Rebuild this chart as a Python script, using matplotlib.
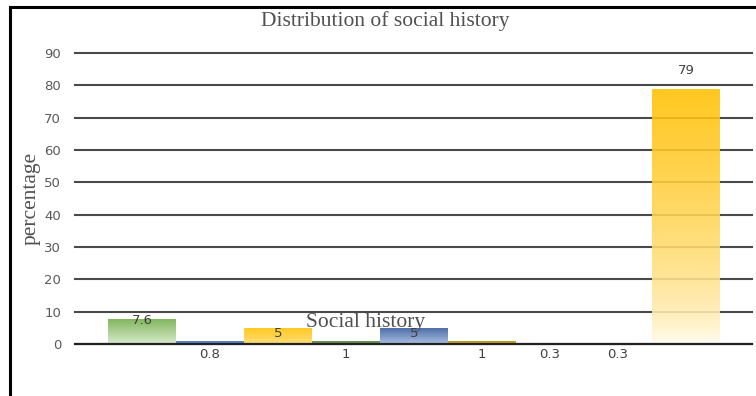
import numpy as np
import matplotlib.pyplot as plt
from matplotlib.colors import to_rgb
from matplotlib.lines import Line2D

# Social history categories and their shares (percent)
categories = ["A", "B", "C", "D", "E", "F", "G", "H", "I"]
values = [7.6, 0.8, 5, 1, 5, 1, 0.3, 0.3, 79]
value_labels = ["7.6", "0.8", "5", "1", "5", "1", "0.3", "0.3", "79"]
y_ticks = [0, 10, 20, 30, 40, 50, 60, 70, 80, 90]

# (top colour, bottom colour, fade exponent) per bar
top_colors = ["#70AD47", "#4472C4", "#FFC000", "#548235", "#2F5597",
              "#BF9000", "#B5C98E", "#9DB4DA", "#FFC000"]
bottom_colors = ["#D3E8C6", "#4472C4", "#FFD966", "#548235", "#9FB6E0",
                 "#BF9000", "#B5C98E", "#9DB4DA", "#FFFEFA"]
fade_power = [1.0, 1.0, 1.0, 1.0, 1.0, 1.0, 1.0, 1.0, 0.6]

fig = plt.figure(figsize=(7.56, 3.96), dpi=100)
ax = fig.add_axes([75 / 756, 1 - 344 / 396, 677 / 756, 291 / 396])

x = np.arange(len(values))
bars = ax.bar(x, values, width=1.0, color="none", edgecolor="none", zorder=3)

# Fill each bar with a vertical gradient clipped to its rectangle
for rect, c_top, c_bot, p in zip(bars.patches, top_colors, bottom_colors, fade_power):
    x0, y0 = rect.get_x(), rect.get_y()
    w, h = rect.get_width(), rect.get_height()
    t = np.linspace(0, 1, 256) ** p  # 0 at bottom, 1 at top
    ct, cb = np.array(to_rgb(c_top)), np.array(to_rgb(c_bot))
    grad = cb[None, :] * (1 - t[:, None]) + ct[None, :] * t[:, None]
    img = ax.imshow(grad[:, None, :], extent=[x0, x0 + w, y0, y0 + h],
                    origin="lower", aspect="auto", zorder=3, alpha=0.88,
                    interpolation="bilinear")
    img.set_clip_path(rect)

ax.set_xlim(-0.985, 8.971)
ax.set_ylim(0, 90)
ax.set_yticks(y_ticks)
ax.set_xticks([])
ax.tick_params(axis="y", length=0, pad=10, labelsize=9.5, labelcolor="#595959")
for lab in ax.get_yticklabels():
    lab.set_fontfamily("DejaVu Sans")

ax.yaxis.grid(True, color="#4a4a4a", linewidth=1.5, zorder=1)
ax.set_axisbelow(True)
for gl in ax.get_ygridlines():
    gl.set_clip_on(False)
for s in ax.spines.values():
    s.set_visible(False)
ax.axhline(0, color="#222222", linewidth=1.6, zorder=4, clip_on=False)

# Value labels
label_kw = dict(ha="center", va="center", fontsize=9.5, color="#404040",
                family="DejaVu Sans", zorder=6)
for xi, v, txt in zip(x, values, value_labels):
    if v >= 50:
        ax.text(xi, v + 5.5, txt, **label_kw)
    elif v >= 2:
        ax.text(xi, v - 0.3 if v > 6 else v - 1.6, txt, **label_kw)
    else:
        ax.text(xi, -3.2, txt, **label_kw)

title_kw = dict(ha="center", va="center", fontsize=15.5, color="#505050",
                family="Liberation Serif")
fig.text(385 / 756, 1 - 21 / 396, "Distribution of social history", **title_kw)
fig.text(31 / 756, 1 - 198 / 396, "percentage", rotation=90, **title_kw)
ax.text(3.29, 6.5, "Social history", zorder=7, **title_kw)

# Outer frame on the left and top
fig.add_artist(Line2D([10 / 756, 10 / 756], [0, 1 - 7 / 396], color="black",
                      linewidth=2.2, transform=fig.transFigure))
fig.add_artist(Line2D([10 / 756, 1], [1 - 7 / 396, 1 - 7 / 396], color="black",
                      linewidth=2.2, transform=fig.transFigure))

fig.savefig("out.png", dpi=100)
